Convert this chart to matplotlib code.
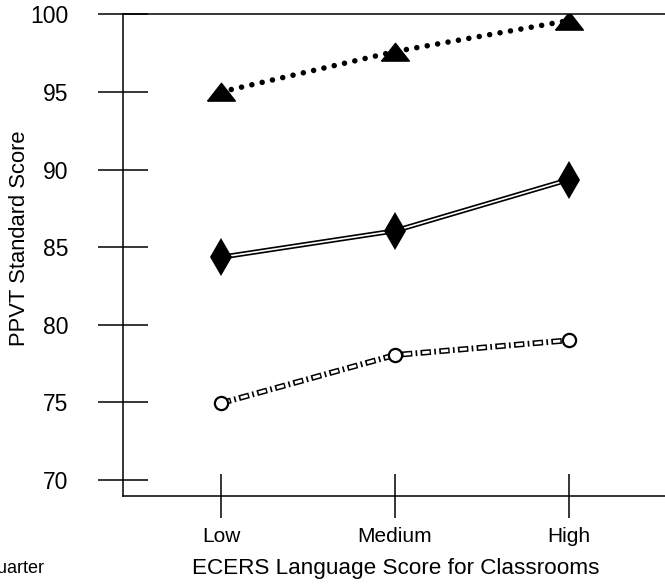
import matplotlib
matplotlib.use("Agg")
import matplotlib.pyplot as plt

plt.rcParams["font.family"] = ["Liberation Sans", "DejaVu Sans"]
plt.rcParams["lines.scale_dashes"] = False

categories = ["Low", "Medium", "High"]
top_scores = [95.0, 97.6, 99.6]      # triangles, dotted
mid_scores = [84.35, 86.05, 89.35]   # diamonds, double line
low_scores = [74.95, 78.05, 79.0]    # open circles, dash-dot

x = list(range(len(categories)))

fig = plt.figure(figsize=(6.65, 5.84), dpi=100)
ax = fig.add_axes([0.1845, 0.1507, 0.88, 0.8248])

# top series: thick round dots with filled triangles
tri = [(-1.0, -0.62), (1.0, -0.62), (0.0, 0.66), (-1.0, -0.62)]
ax.plot(x, top_scores, color="black", lw=4.0, linestyle=(0, (0.01, 7.6)),
        dash_capstyle="round", zorder=3)
ax.plot(x, top_scores, linestyle="none", marker=tri, ms=20,
        color="black", zorder=4)

# middle series: double line (black with white core) and thin diamonds
ax.plot(x, mid_scores, color="black", lw=3.6, solid_capstyle="butt", zorder=3)
ax.plot(x, mid_scores, color="white", lw=1.2, solid_capstyle="butt", zorder=3.5)
ax.plot(x, mid_scores, linestyle="none", marker="d", ms=19, mew=0,
        color="black", zorder=4)

# bottom series: hollow dash-dot
ax.plot(x, low_scores, color="black", lw=4.2, linestyle=(0, (7.5, 2.4, 1.2, 2.4)),
        dash_capstyle="butt", zorder=3)
ax.plot(x, low_scores, color="white", lw=2.0, linestyle=(12.3, (5.3, 8.2)),
        dash_capstyle="butt", zorder=3.5)
ax.plot(x, low_scores, linestyle="none", marker="o", ms=9.5, mew=1.6,
        mfc="white", mec="black", zorder=4)

ax.set_xlim(-0.565, 2.8)
ax.set_ylim(68.97, 100)
ax.set_yticks([70, 75, 80, 85, 90, 95, 100])
ax.set_xticks(x)
ax.set_xticklabels(categories)

for s in ax.spines.values():
    s.set_linewidth(1.1)
ax.spines["right"].set_visible(False)

ax.tick_params(axis="y", direction="inout", length=36, width=1.1, pad=21,
               labelsize=16.5)
ax.tick_params(axis="x", direction="inout", length=32, width=1.1, pad=6,
               labelsize=15)

fig.text(20 / 665, 0.592, "PPVT Standard Score", rotation=90,
         ha="center", va="center", fontsize=15.8)
fig.text(396 / 665, 0.027, "ECERS Language Score for Classrooms",
         ha="center", va="center", fontsize=16.2)
fig.text(44 / 665, 0.027, "Quarter", ha="right", va="center", fontsize=13)

fig.savefig("out.png", dpi=100)
